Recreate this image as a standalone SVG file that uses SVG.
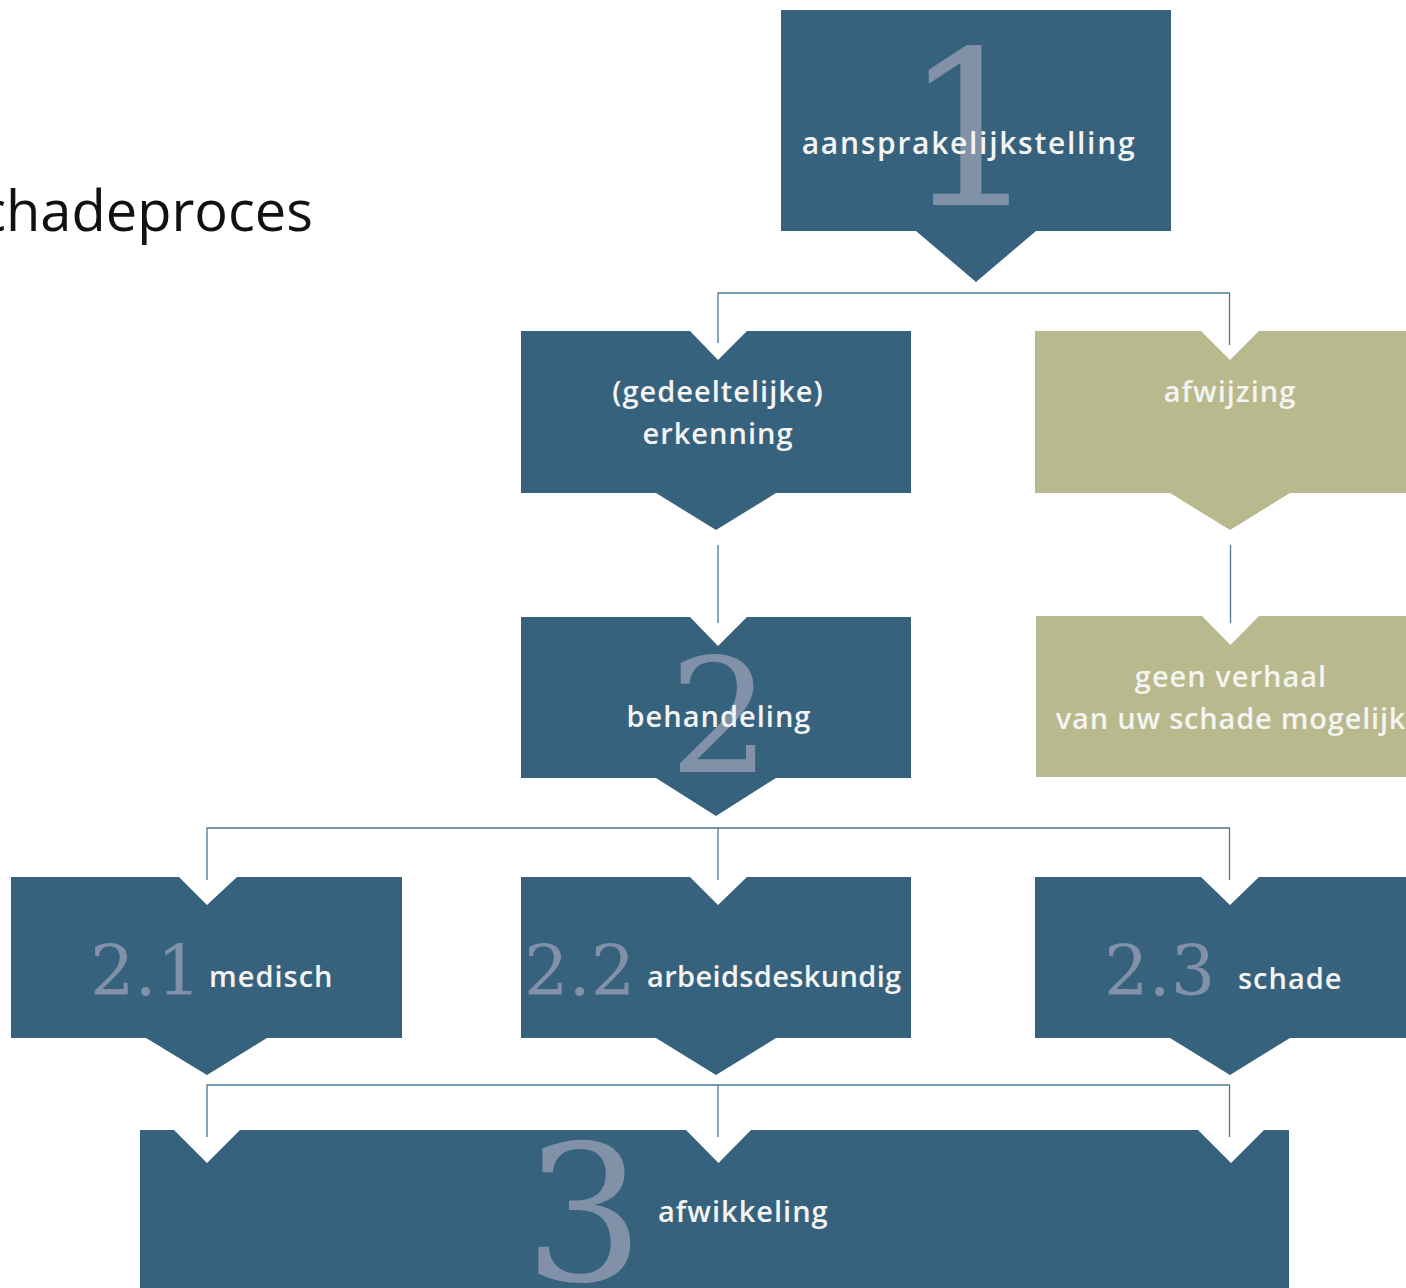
<svg xmlns="http://www.w3.org/2000/svg" width="1406" height="1288" viewBox="0 0 1406 1288">
<style>
.blue{fill:#37627e}
.olive{fill:#b8b98c}
.lbl{font-family:"Open Sans","Noto Sans",sans-serif;font-weight:600;font-size:29px;fill:#f4f4f2;letter-spacing:1px}
.num{font-family:"DejaVu Serif","Liberation Serif",serif;fill:#8091a8}
.conn{fill:none;stroke:#4f7591;stroke-width:1.3}
.title{font-family:"Open Sans","Noto Sans",sans-serif;font-size:56px;fill:#111}
</style>
<rect width="1406" height="1288" fill="#fff"/>
<text class="title" x="313" y="231" text-anchor="end">chadeproces</text>
<g id="connectors">
<path class="conn" d="M718,343 V293 H1229.5 V345"/>
<path class="conn" d="M718,545 V623"/>
<path class="conn" d="M1230.5,545 V623"/>
<path class="conn" d="M207,880 V828 H1229.5 V880 M718,828 V880"/>
<path class="conn" d="M207,1137 V1085 H1229.5 V1137 M718,1085 V1137"/>
</g>
<g id="node-1">
<path class="blue" d="M781,10 H1171 V231 H1036 L976,282 L916,231 H781 Z"/>
<text class="num" x="971" y="205" font-size="215" text-anchor="middle">1</text>
<text class="lbl" x="969" y="154" text-anchor="middle" style="font-size:30px;letter-spacing:1.7px">aansprakelijkstelling</text>
</g>
<g id="node-erkenning">
<path class="blue" d="M521,331 H690 L718,360 L747,331 H911 V493 H776 L716,530 L656,493 H521 Z"/>
<text class="lbl" x="718" y="402" text-anchor="middle">(gedeeltelijke)</text>
<text class="lbl" x="718" y="444" text-anchor="middle">erkenning</text>
</g>
<g id="node-afwijzing">
<path class="olive" d="M1035,331 H1201 L1230,360 L1259,331 H1406 V493 H1290 L1230,530 L1170,493 H1035 Z"/>
<text class="lbl" x="1230" y="402" text-anchor="middle">afwijzing</text>
</g>
<g id="node-2">
<path class="blue" d="M521,617 H690 L718,646 L747,617 H911 V778 H776 L716,816 L656,778 H521 Z"/>
<text class="num" x="720" y="772" font-size="160" text-anchor="middle">2</text>
<text class="lbl" x="719" y="727" text-anchor="middle">behandeling</text>
</g>
<g id="node-geen-verhaal">
<path class="olive" d="M1036,616 H1202 L1230.5,645 L1259,616 H1406 V777 H1036 Z"/>
<text class="lbl" x="1231" y="687" text-anchor="middle">geen verhaal</text>
<text class="lbl" x="1231" y="729" text-anchor="middle" style="letter-spacing:0.8px">van uw schade mogelijk</text>
</g>
<g id="node-2-1">
<path class="blue" d="M11,877 H179 L207,905 L237,877 H402 V1038 H267 L207,1075 L146,1038 H11 Z"/>
<text class="num" x="90" y="995" font-size="70">2.1</text>
<text class="lbl" x="209" y="987">medisch</text>
</g>
<g id="node-2-2">
<path class="blue" d="M521,877 H690 L718,905 L747,877 H911 V1038 H776 L716,1075 L656,1038 H521 Z"/>
<text class="num" x="524" y="995" font-size="70">2.2</text>
<text class="lbl" x="647" y="987" style="letter-spacing:0.35px">arbeidsdeskundig</text>
</g>
<g id="node-2-3">
<path class="blue" d="M1035,877 H1201 L1230,905 L1259,877 H1406 V1038 H1290 L1230,1075 L1170,1038 H1035 Z"/>
<text class="num" x="1104" y="995" font-size="70">2.3</text>
<text class="lbl" x="1238" y="989">schade</text>
</g>
<g id="node-3">
<path class="blue" d="M140,1130 H174 L207,1163 L240,1130 H686 L718.5,1163 L751,1130 H1198 L1231,1163 L1264,1130 H1289 V1288 H140 Z"/>
<text class="num" x="584" y="1280" font-size="189" text-anchor="middle">3</text>
<text class="lbl" x="658" y="1222">afwikkeling</text>
</g>
</svg>
